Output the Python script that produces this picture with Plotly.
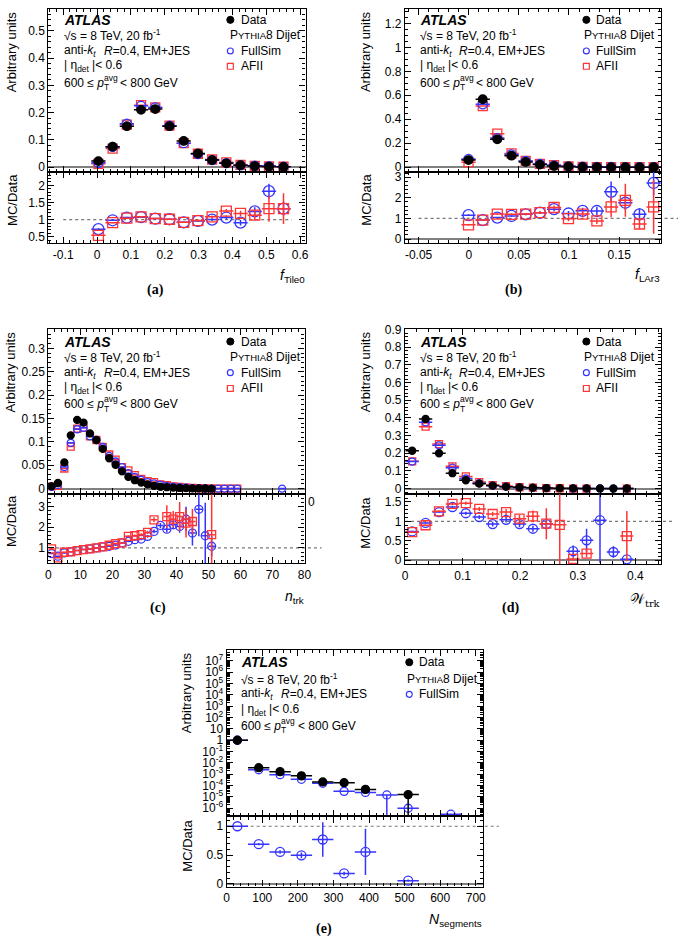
import plotly.graph_objects as go

# ---------------- data ----------------
# (a) f_Tile0
a_x = [0.004, 0.046, 0.088, 0.130, 0.172, 0.214, 0.256, 0.298, 0.340, 0.382, 0.424, 0.466, 0.508, 0.551]
a_data = [0.022, 0.075, 0.150, 0.210, 0.213, 0.150, 0.096, 0.050, 0.026, 0.014, 0.007, 0.004, 0.002, 0.001]
a_full = [0.016, 0.074, 0.159, 0.225, 0.219, 0.152, 0.088, 0.048, 0.026, 0.015, 0.0064, 0.005, 0.0037, 0.0013]
a_afii = [0.012, 0.068, 0.156, 0.227, 0.219, 0.152, 0.088, 0.049, 0.028, 0.0175, 0.0083, 0.0045, 0.0026, 0.0013]
a_full_ratio = [0.72, 0.98, 1.06, 1.07, 1.03, 1.01, 0.92, 0.96, 1.00, 1.06, 0.91, 1.24, 1.83, 1.32]
a_afii_ratio = [0.54, 0.91, 1.04, 1.08, 1.03, 1.01, 0.92, 0.97, 1.08, 1.25, 1.18, 1.13, 1.32, 1.32]
a_full_err = [0.03, 0.02, 0.02, 0.02, 0.02, 0.02, 0.02, 0.03, 0.04, 0.06, 0.08, 0.12, 0.22, 0.20]
a_afii_err = [0.03, 0.02, 0.02, 0.02, 0.02, 0.02, 0.02, 0.03, 0.04, 0.06, 0.08, 0.15, 0.38, 0.45]

# (b) f_LAr3
b_x = [-0.0002, 0.014, 0.0285, 0.0427, 0.0568, 0.071, 0.0851, 0.0995, 0.1136, 0.1278, 0.142, 0.1562, 0.1703, 0.1844]
b_data = [0.060, 0.567, 0.233, 0.096, 0.044, 0.022, 0.011, 0.006, 0.003, 0.0015, 0.0008, 0.0004, 0.0002, 0.0001]
b_full = [0.069, 0.525, 0.243, 0.107, 0.053, 0.028, 0.016, 0.0074, 0.0041, 0.002, 0.0018, 0.0007, 0.00024, 0.00027]
b_afii = [0.041, 0.510, 0.280, 0.115, 0.053, 0.028, 0.017, 0.006, 0.0036, 0.0013, 0.0012, 0.00075, 0.00015, 0.00016]
b_full_ratio = [1.16, 0.92, 1.04, 1.12, 1.20, 1.28, 1.45, 1.24, 1.37, 1.36, 2.29, 1.76, 1.20, 2.72]
b_afii_ratio = [0.69, 0.92, 1.21, 1.20, 1.21, 1.28, 1.53, 0.99, 1.21, 0.88, 1.56, 1.88, 0.73, 1.56]
b_full_err = [0.04, 0.02, 0.03, 0.04, 0.05, 0.07, 0.10, 0.12, 0.15, 0.20, 0.50, 0.35, 0.30, 0.60]
b_afii_err = [0.04, 0.02, 0.03, 0.04, 0.05, 0.07, 0.10, 0.12, 0.15, 0.15, 0.50, 0.80, 0.25, 1.30]

# (c) n_trk
c_x_data = [1, 3, 5, 7, 9, 11, 13, 15, 17, 19, 21, 23, 25, 27, 29, 31, 33, 35, 37, 39, 41, 43, 45, 47, 49, 51]
c_x_mc = [1, 3, 5, 7, 9, 11, 13, 15, 17, 19, 21, 23, 25, 27, 29, 31, 33, 35, 37, 39, 41, 43, 45, 47, 49, 51,
          53, 55, 57, 59, 73]
c_data = [0.005, 0.012, 0.056, 0.114, 0.147, 0.141, 0.118, 0.104, 0.085, 0.065, 0.051, 0.037, 0.025, 0.018,
          0.013, 0.009, 0.006, 0.004, 0.003, 0.002, 0.0014, 0.001, 0.0006, 0.0004, 0.0002, 0.0001]
c_full = [0.004, 0.008, 0.046, 0.098, 0.127, 0.130, 0.112, 0.104, 0.089, 0.070, 0.058, 0.046, 0.033, 0.025,
          0.019, 0.014, 0.011, 0.0084, 0.0057, 0.0042, 0.0029, 0.0024, 0.001, 0.0011, 0.0003, 0.0001,
          0.0001, 0.00005, 0.00003, 0.00002, 0.00001]
c_afii = [0.005, 0.006, 0.043, 0.090, 0.128, 0.130, 0.112, 0.104, 0.089, 0.073, 0.062, 0.046, 0.039, 0.029,
          0.021, 0.016, 0.014, 0.009, 0.0076, 0.0048, 0.0035, 0.0022, 0.0014, 0.0008, 0.0004, 0.00016,
          0.0001, 0.00005, 0.00003, 0.00002, None]
c_full_ratio = [0.73, 0.60, 0.76, 0.81, 0.87, 0.92, 0.95, 1.00, 1.05, 1.08, 1.14, 1.24, 1.32, 1.40, 1.43,
                1.56, 1.80, 2.09, 1.91, 2.12, 2.04, 2.39, 1.72, 2.87, 1.59, 1.08]
c_afii_ratio = [0.95, 0.52, 0.79, 0.81, 0.87, 0.92, 0.95, 1.00, 1.05, 1.13, 1.21, 1.24, 1.56, 1.59, 1.64,
                1.75, 2.36, None, 2.52, 2.39, 2.52, 2.20, 2.28, None, None, 1.64]
c_full_err = [0.03, 0.02, 0.02, 0.02, 0.02, 0.02, 0.02, 0.02, 0.02, 0.02, 0.03, 0.03, 0.04, 0.05, 0.06,
              0.07, 0.09, 0.12, 0.15, 0.20, 0.30, 0.60, 0.60, 1.30, 1.60, 0.50]
c_afii_err = [0.03, 0.02, 0.02, 0.02, 0.02, 0.02, 0.02, 0.02, 0.02, 0.02, 0.03, 0.03, 0.05, 0.06, 0.07,
              0.08, 0.12, 0.0, 0.55, 0.40, 0.70, 0.70, 0.60, 0.0, 0.0, 2.00]

# (d) W_trk
d_x = [0.0124, 0.0357, 0.059, 0.0823, 0.1056, 0.1289, 0.1522, 0.1755, 0.1988, 0.2221, 0.2454, 0.2687,
       0.292, 0.3153, 0.3386, 0.3619, 0.3852]
d_data = [0.214, 0.394, 0.200, 0.087, 0.047, 0.028, 0.017, 0.011, 0.007, 0.005, 0.003, 0.002, 0.0015,
          0.001, 0.0007, 0.0005, 0.0003]
d_full = [0.153, 0.375, 0.245, 0.118, 0.057, 0.031, 0.016, 0.011, 0.0065, 0.004, 0.0028, None, 0.00035,
          0.0005, 0.0007, 0.0001, 0.00001]
d_afii = [0.154, 0.350, 0.252, 0.126, 0.069, 0.037, 0.020, 0.014, 0.0075, 0.0057, 0.0028, 0.0018, 0.00005,
          0.00017, None, None, 0.0002]
d_full_ratio = [0.74, 0.96, 1.24, 1.37, 1.21, 1.11, 0.93, 1.04, 0.93, 0.81, 0.93, None, 0.23, 0.51, 1.03,
                0.21, 0.02]
d_afii_ratio = [0.72, 0.90, 1.26, 1.45, 1.47, 1.32, 1.19, 1.24, 1.07, 1.13, 0.94, 0.91, 0.03, 0.17, None,
                None, 0.62]
d_full_err = [0.02, 0.02, 0.02, 0.03, 0.04, 0.05, 0.06, 0.07, 0.08, 0.08, 0.10, 0.0, 0.15, 0.30, 1.10,
              0.15, 0.02]
d_afii_err = [0.02, 0.02, 0.02, 0.03, 0.04, 0.05, 0.06, 0.08, 0.10, 0.15, 0.40, 1.20, 0.05, 0.10, 0.0,
              0.0, 0.65]

# (e) N_segments
e_x = [30, 90, 150, 210, 270, 330, 390, 450, 510, 630]
e_data = [1.0, 0.0038, 0.0017, 0.00072, 0.00021, 0.00018, 0.000046, None, 0.000016, None]
e_data_err_lo = [0, 0, 0, 0, 0, 0, 0, 0, 0.0000158, 0]
e_full = [1.0, 0.0025, 0.00092, 0.00036, 0.00016, 0.000031, 0.000025, 0.000015, 0.000001, 0.0000003]
e_full_err_lo = [0, 0, 0, 0, 0, 0, 0, 0.0000148, 0, 0]
e_full_ratio = [1.0, 0.69, 0.555, 0.497, 0.77, 0.183, 0.555, None, 0.057, None]
e_full_ratio_err = [0.003, 0.02, 0.03, 0.05, 0.30, 0.03, 0.40, 0.0, 0.02, 0.0]

log_ticks = [1e-6, 1e-5, 1e-4, 1e-3, 1e-2, 1e-1, 1, 10, 1e2, 1e3, 1e4, 1e5, 1e6, 1e7]
log_ticktext = ["10<sup>-6</sup>", "10<sup>-5</sup>", "10<sup>-4</sup>", "10<sup>-3</sup>", "10<sup>-2</sup>",
                "10<sup>-1</sup>", "1", "10", "10<sup>2</sup>", "10<sup>3</sup>", "10<sup>4</sup>",
                "10<sup>5</sup>", "10<sup>6</sup>", "10<sup>7</sup>"]

# ---------------- styling / layout ----------------
W, H = 685, 941
FONT = "Liberation Sans"
BLUE = "#3535ff"
RED = "#ff3535"
GRAY = "#808080"

fig = go.Figure()


def aid(n):
    return "" if n == 1 else str(n)


def dom_x(l, r):
    return [l / W, r / W]


def dom_y(t, b):
    return [1 - b / H, 1 - t / H]


def add_pts(x, y, n, color, symbol, size, halfw, err=None, err_lo=None):
    ey = dict(visible=False)
    if err is not None:
        ey = dict(type="data", array=err, width=0, color=color, thickness=1.5, visible=True)
    if err_lo is not None:
        ey = dict(type="data", array=[0] * len(err_lo), arrayminus=err_lo, symmetric=False,
                  width=0, color=color, thickness=1.5, visible=True)
    fig.add_trace(go.Scatter(
        x=x, y=y, mode="markers", xaxis="x" + aid(n), yaxis="y" + aid(n),
        marker=dict(symbol=symbol, size=size, color=color, line=dict(color=color, width=1.3)),
        error_x=dict(type="constant", value=halfw, width=0, color=color, thickness=1.5),
        error_y=ey, showlegend=False, hoverinfo="skip"))


panels = [
    dict(n=1, xl=46, xr=307, mt=3, mb=168, rb=240, xrange=[-0.144, 0.616],
         xt=dict(tickmode="array", tickvals=[-0.1, 0, 0.1, 0.2, 0.3, 0.4, 0.5, 0.6],
                 ticktext=["-0.1", "0", "0.1", "0.2", "0.3", "0.4", "0.5", "0.6"]), xminor=0.02,
         yrange=[-0.018, 0.58], ydt=0.1, yminor=0.02, rrange=[0.31, 2.39], rdt=0.5, rminor=0.1,
         line1=[-0.1, 0.575]),
    dict(n=3, xl=408, xr=668, mt=3, mb=168, rb=240, xrange=[-0.0635, 0.192],
         xt=dict(tickmode="array", tickvals=[-0.05, 0, 0.05, 0.1, 0.15],
                 ticktext=["-0.05", "0", "0.05", "0.1", "0.15"]), xminor=0.01,
         yrange=[-0.04, 1.32], ydt=0.2, yminor=0.05, rrange=[-0.2, 3.25], rdt=1, rminor=0.2,
         line1=[-0.05, 0.209]),
    dict(n=5, xl=46, xr=306, mt=327, mb=494, rb=564, xrange=[0, 80],
         xt=dict(dtick=10, tick0=0), xminor=2,
         yrange=[-0.012, 0.341], ydt=0.05, yminor=0.01, rrange=[0.25, 3.6], rdt=1, rminor=0.2,
         line1=[0.5, 85.3]),
    dict(n=7, xl=408, xr=668, mt=327, mb=494, rb=565, xrange=[0, 0.445],
         xt=dict(dtick=0.1, tick0=0), xminor=0.02,
         yrange=[-0.032, 0.902], ydt=0.1, yminor=0.02, rrange=[-0.11, 1.7], rdt=0.5, rminor=0.1,
         line1=[0.0, 0.465]),
    dict(n=9, xl=227, xr=487, mt=652, mb=820, rb=891, xrange=[0, 720],
         xt=dict(dtick=100, tick0=0), xminor=20,
         yrange=None, ydt=None, yminor=None, rrange=[-0.045, 1.17], rdt=0.5, rminor=0.1,
         line1=[0, 765]),
]

axis_common = dict(showline=True, linecolor="black", linewidth=1.2, mirror="ticks", ticks="inside",
                   ticklen=6, tickwidth=1, tickcolor="black", showgrid=False,
                   tickfont=dict(family=FONT, size=12, color="black"))

shapes = []
for p in panels:
    n = p["n"]
    xd = dom_x(p["xl"], p["xr"])
    fig.layout["xaxis" + aid(n)] = dict(axis_common, domain=xd, range=p["xrange"], anchor="y" + aid(n),
                                       showticklabels=False, zeroline=False,
                                       minor=dict(ticks="inside", ticklen=3, dtick=p["xminor"],
                                                  tickcolor="black"),
                                       **p["xt"])
    fig.layout["xaxis" + aid(n + 1)] = dict(axis_common, domain=xd, range=p["xrange"],
                                           anchor="y" + aid(n + 1), zeroline=False,
                                           minor=dict(ticks="inside", ticklen=3, dtick=p["xminor"],
                                                      tickcolor="black"),
                                           **p["xt"])
    if p["yrange"] is not None:
        fig.layout["yaxis" + aid(n)] = dict(axis_common, domain=dom_y(p["mt"], p["mb"]), range=p["yrange"],
                                           anchor="x" + aid(n), dtick=p["ydt"], tick0=0,
                                           zeroline=True, zerolinecolor=GRAY, zerolinewidth=1.5,
                                           minor=dict(ticks="inside", ticklen=3, dtick=p["yminor"],
                                                      tickcolor="black"))
    else:
        fig.layout["yaxis" + aid(n)] = dict(axis_common, domain=dom_y(p["mt"], p["mb"]), type="log",
                                           range=[-6.72, 7.93], anchor="x" + aid(n),
                                           tickmode="array", tickvals=log_ticks, ticktext=log_ticktext,
                                           minor=dict(ticks="inside", ticklen=3, dtick="D1",
                                                      tickcolor="black"))
    fig.layout["yaxis" + aid(n + 1)] = dict(axis_common, domain=dom_y(p["mb"], p["rb"]), range=p["rrange"],
                                           anchor="x" + aid(n + 1), dtick=p["rdt"], tick0=0,
                                           zeroline=True, zerolinecolor=GRAY, zerolinewidth=1.5,
                                           minor=dict(ticks="inside", ticklen=3, dtick=p["rminor"],
                                                      tickcolor="black"))
    # dotted reference line at MC/Data = 1 (ROOT draws it beyond the frame)
    rr = p["rrange"]
    ryd = dom_y(p["mb"], p["rb"])
    ypaper = ryd[0] + (1.0 - rr[0]) / (rr[1] - rr[0]) * (ryd[1] - ryd[0])
    xr_ = p["xrange"]
    x0p = xd[0] + (p["line1"][0] - xr_[0]) / (xr_[1] - xr_[0]) * (xd[1] - xd[0])
    x1p = xd[0] + (p["line1"][1] - xr_[0]) / (xr_[1] - xr_[0]) * (xd[1] - xd[0])
    shapes.append(dict(type="line", xref="paper", yref="paper", x0=x0p, x1=min(x1p, 1.0), y0=ypaper, y1=ypaper,
                       line=dict(color="#777777", width=1.2, dash="dot"), layer="below"))

# ----- traces -----
# (a)
add_pts(a_x, a_full_ratio, 2, BLUE, "circle-open", 11, 0.021, a_full_err)
add_pts(a_x, a_afii_ratio, 2, RED, "square-open", 10, 0.021, a_afii_err)
add_pts(a_x, a_afii, 1, RED, "square-open", 9, 0.021)
add_pts(a_x, a_full, 1, BLUE, "circle-open", 9, 0.021)
add_pts(a_x, a_data, 1, "black", "circle", 8.5, 0.021)
# (b)
add_pts(b_x, b_full_ratio, 4, BLUE, "circle-open", 11, 0.0071, b_full_err)
add_pts(b_x, b_afii_ratio, 4, RED, "square-open", 10, 0.0071, b_afii_err)
add_pts(b_x, b_afii, 3, RED, "square-open", 9, 0.0071)
add_pts(b_x, b_full, 3, BLUE, "circle-open", 9, 0.0071)
add_pts(b_x, b_data, 3, "black", "circle", 8.5, 0.0071)
# (c)
add_pts(c_x_data, c_full_ratio, 6, BLUE, "circle-open", 8, 1.0, c_full_err)
add_pts(c_x_data, c_afii_ratio, 6, RED, "square-open", 8, 1.0, c_afii_err)
add_pts(c_x_mc, c_afii, 5, RED, "square-open", 7, 1.0)
add_pts(c_x_mc, c_full, 5, BLUE, "circle-open", 7, 1.0)
add_pts(c_x_data, c_data, 5, "black", "circle", 7, 1.0)
# (d)
add_pts(d_x, d_full_ratio, 8, BLUE, "circle-open", 9, 0.0116, d_full_err)
add_pts(d_x, d_afii_ratio, 8, RED, "square-open", 9, 0.0116, d_afii_err)
add_pts(d_x, d_afii, 7, RED, "square-open", 7, 0.0116)
add_pts(d_x, d_full, 7, BLUE, "circle-open", 7, 0.0116)
add_pts(d_x, d_data, 7, "black", "circle", 7, 0.0116)
# (e)
add_pts(e_x, e_full_ratio, 10, BLUE, "circle-open", 9, 30, e_full_ratio_err)
add_pts(e_x, e_full, 9, BLUE, "circle-open", 8, 30, err_lo=e_full_err_lo)
add_pts(e_x, e_data, 9, "black", "circle", 8, 30, err_lo=e_data_err_lo)

# ----- text -----
annotations = []


def ann(text, px, py, size=12, xanchor="left", yanchor="middle", family=FONT, color="black", angle=0):
    annotations.append(dict(text=text, x=px / W, y=1 - py / H, xref="paper", yref="paper",
                            xanchor=xanchor, yanchor=yanchor, showarrow=False, textangle=angle,
                            font=dict(family=family, size=size, color=color)))


PYTHIA = "P<span style='font-size:9.5px'>YTHIA</span>8 Dijet"

text_blocks = [
    (60, [14, 29.5, 45.5, 61, 77.5], 230.7, 239, 228, True),
    (421, [14, 29.5, 45.5, 61, 77.5], 592, 600, 588, True),
    (60, [339.5, 355, 371, 387, 403], 230.7, 239, 228, True),
    (421, [339.5, 355, 371, 387, 403], 592, 600, 588, True),
    (240, [664, 680.5, 696.5, 712.5, 728.5], 412.3, 420, 408, False),
]

for lx, ys, mx, tx, pyx, afii in text_blocks:
    ann("<b><i>ATLAS</i></b>", lx, ys[0], size=14)
    ann("√s = 8 TeV, 20 fb<sup>-1</sup>", lx, ys[1])
    ann("anti-<i>k</i><sub><i>t</i></sub>", lx, ys[2])
    ann("<i>R</i>=0.4, EM+JES", lx + 40, ys[2])
    ann("| η<sub>det</sub> |< 0.6", lx, ys[3])
    ann("600 ≤ <i>p</i>", lx, ys[4])
    ann("T", lx + 40.5, ys[4] + 4.5, size=8.5)
    ann("avg", lx + 40.5, ys[4] - 5, size=8.5)
    ann("< 800 GeV", lx + 57, ys[4])
    ann("Data", tx, ys[0])
    ann(PYTHIA, pyx, ys[1])
    ann("FullSim", tx, ys[2])
    r = 3.6
    shapes.append(dict(type="circle", xref="paper", yref="paper", x0=(mx - r) / W, x1=(mx + r) / W,
                       y0=1 - (ys[0] + r) / H, y1=1 - (ys[0] - r) / H, fillcolor="black",
                       line=dict(color="black", width=1)))
    r2 = 3.0
    shapes.append(dict(type="circle", xref="paper", yref="paper", x0=(mx - r2) / W, x1=(mx + r2) / W,
                       y0=1 - (ys[2] + r2) / H, y1=1 - (ys[2] - r2) / H,
                       line=dict(color=BLUE, width=1.2)))
    if afii:
        ann("AFII", tx, ys[3])
        shapes.append(dict(type="rect", xref="paper", yref="paper", x0=(mx - r2) / W, x1=(mx + r2) / W,
                           y0=1 - (ys[3] + r2) / H, y1=1 - (ys[3] - r2) / H,
                           line=dict(color=RED, width=1.2)))

# axis titles
for x, t_main, t_ratio in [(9, 3, 168), (368, 3, 168), (8, 327, 493), (368, 327, 495), (187, 652, 821)]:
    ann("Arbitrary units", x, t_main, size=13, xanchor="center", yanchor="top", angle=-90)
    ann("MC/Data", x, t_ratio, size=13, xanchor="center", yanchor="top", angle=-90)

ann("<i>f</i><sub>Tile0</sub>", 308, 273, size=14, xanchor="right")
ann("<i>f</i><sub>LAr3</sub>", 669, 272, size=14, xanchor="right")
ann("<i>n</i><sub>trk</sub>", 307, 598, size=14, xanchor="right")
ann("𝒲<sub>trk</sub>", 669, 601, size=14, xanchor="right", family="DejaVu Serif")
ann("<i>N</i><sub>segments</sub>", 488, 925, size=14, xanchor="right")

# stray label visible in the reference
ann("0", 313, 502, size=12, xanchor="center")

for lab, x, y in [("(a)", 155, 287), ("(b)", 518, 287), ("(c)", 157, 609), ("(d)", 515, 609), ("(e)", 326, 934)]:
    ann("<b>" + lab + "</b>", x, y, size=14, xanchor="center", family="Liberation Serif")

fig.update_layout(width=W, height=H, margin=dict(l=0, r=0, t=0, b=0), paper_bgcolor="white",
                  plot_bgcolor="white", showlegend=False, annotations=annotations, shapes=shapes,
                  font=dict(family=FONT, size=12, color="black"))

fig.write_html("out.html", config={"displayModeBar": False},
               post_script="document.body.style.margin='0px';")
